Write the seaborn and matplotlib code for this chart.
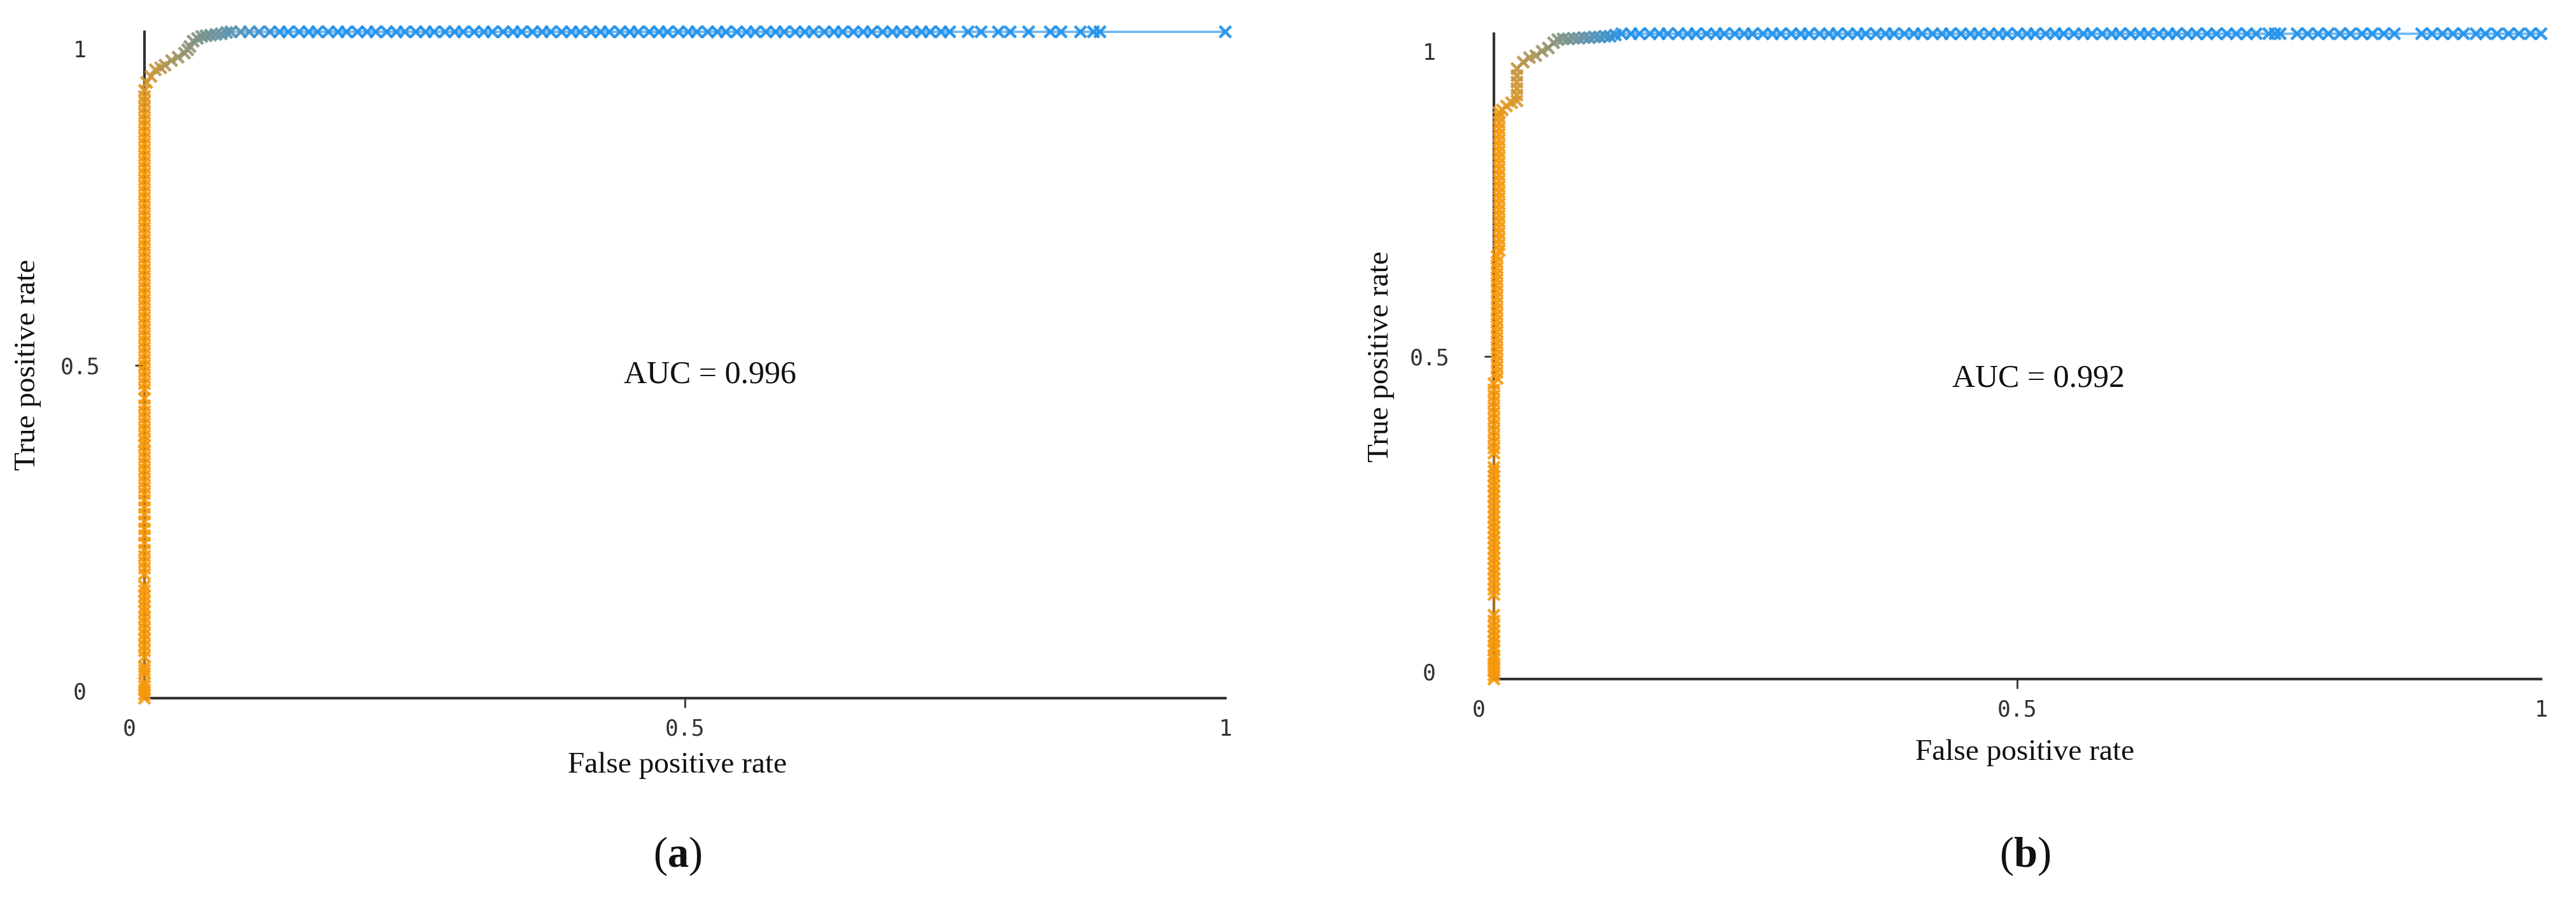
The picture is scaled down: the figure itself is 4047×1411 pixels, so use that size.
import numpy as np
import pandas as pd
import matplotlib.pyplot as plt
import seaborn as sns
from matplotlib.colors import LinearSegmentedColormap
from matplotlib.collections import LineCollection
from matplotlib.transforms import ScaledTranslation

sns.set_style("ticks")
plt.rcParams["font.family"] = ["Liberation Serif", "DejaVu Serif"]
plt.rcParams["mathtext.fontset"] = "custom"
plt.rcParams["mathtext.rm"] = "Liberation Serif"
plt.rcParams["mathtext.bf"] = "Liberation Serif:bold"

# ------------------------
# ROC points
# ------------------------
# (a) vertical run at FPR = 0
va_tpr = [0.0, 0.006, 0.012, 0.018, 0.023,
          0.037, 0.042, 0.047,
          0.062, 0.071, 0.079, 0.088, 0.096, 0.104, 0.113, 0.121, 0.13,
          0.137, 0.145, 0.153, 0.161, 0.168,
          0.186, 0.195, 0.204, 0.213, 0.222,
          0.233, 0.244, 0.254, 0.265, 0.276, 0.286, 0.297, 0.307, 0.316,
          0.325, 0.334, 0.343, 0.352, 0.361, 0.37, 0.379, 0.386,
          0.394, 0.403, 0.412, 0.421, 0.43, 0.439, 0.45,
          0.463, 0.472, 0.481, 0.49, 0.499, 0.508, 0.517, 0.526, 0.535, 0.544,
          0.553, 0.562, 0.571, 0.58, 0.589, 0.598, 0.607, 0.616, 0.625, 0.634,
          0.643, 0.652, 0.661, 0.67, 0.679, 0.688, 0.697, 0.706, 0.715, 0.724,
          0.733, 0.742, 0.751, 0.76, 0.769, 0.778, 0.787, 0.796, 0.805, 0.814,
          0.823, 0.832, 0.841, 0.85, 0.859, 0.868, 0.877, 0.886, 0.895, 0.903, 0.912]
va_fpr = 0.0
# (a) knee
ca_fpr = [0.002, 0.006, 0.010, 0.015, 0.019, 0.025, 0.031, 0.037, 0.040,
          0.042, 0.045, 0.049, 0.053, 0.057, 0.061, 0.066, 0.071, 0.076]
ca_tpr = [0.924, 0.933, 0.943, 0.946, 0.950, 0.957, 0.962, 0.968, 0.973,
          0.978, 0.986, 0.990, 0.993, 0.994, 0.995, 0.996, 0.997, 0.999]
# (a) flat run at TPR = 1
ta_fpr = [0.08, 0.089, 0.097, 0.106, 0.116, 0.125, 0.133, 0.143, 0.152, 0.16,
          0.17, 0.179, 0.187, 0.197, 0.206, 0.214, 0.224, 0.233, 0.241, 0.251,
          0.26, 0.268, 0.278, 0.287, 0.295, 0.305, 0.314, 0.322, 0.332, 0.341,
          0.349, 0.359, 0.368, 0.376, 0.386, 0.395, 0.403, 0.413, 0.422, 0.43,
          0.44, 0.449, 0.457, 0.467, 0.476, 0.484, 0.494, 0.503, 0.511, 0.521,
          0.53, 0.538, 0.548, 0.557, 0.565, 0.575, 0.584, 0.592, 0.602, 0.611,
          0.619, 0.629, 0.638, 0.646, 0.656, 0.665, 0.673, 0.683, 0.692, 0.70,
          0.71, 0.719, 0.727, 0.737, 0.745,
          0.762, 0.774, 0.79, 0.801, 0.818, 0.838, 0.848, 0.866, 0.878, 0.884, 1.0]

# (b) vertical run, three slightly different FPR columns
vb_fpr = [0.0, 0.003, 0.005]
vb0_tpr = [0.0, 0.006, 0.012, 0.018, 0.024, 0.03, 0.036, 0.046, 0.051, 0.058,
           0.066, 0.074, 0.082, 0.09, 0.099,
           0.131, 0.139, 0.147, 0.155, 0.163, 0.171, 0.179, 0.187, 0.195, 0.203,
           0.211, 0.219, 0.227, 0.235, 0.243, 0.251, 0.259, 0.267, 0.275, 0.283,
           0.291, 0.299, 0.307, 0.315, 0.322, 0.328,
           0.35, 0.358, 0.367, 0.376, 0.385, 0.394, 0.403, 0.412, 0.421, 0.43,
           0.439, 0.448, 0.458]
vb1_tpr = [0.466, 0.475, 0.484, 0.493, 0.502, 0.511, 0.52, 0.529, 0.538, 0.547,
           0.556, 0.565, 0.574, 0.583, 0.592, 0.601, 0.61, 0.619, 0.628, 0.637,
           0.646, 0.655]
vb2_tpr = [0.664, 0.673, 0.682, 0.691, 0.7, 0.709, 0.718, 0.727, 0.736, 0.745,
           0.754, 0.763, 0.772, 0.781, 0.79, 0.799, 0.808, 0.817, 0.826, 0.835,
           0.844, 0.853, 0.862, 0.871, 0.878]
# (b) knee
cb_fpr = [0.008, 0.012, 0.017, 0.022, 0.022, 0.022, 0.022, 0.022, 0.022, 0.028,
          0.034, 0.040, 0.046, 0.052, 0.057, 0.061, 0.066, 0.071, 0.076, 0.081,
          0.086, 0.091, 0.096, 0.101, 0.106, 0.111, 0.116]
cb_tpr = [0.882, 0.888, 0.893, 0.896, 0.905, 0.915, 0.925, 0.935, 0.946, 0.956,
          0.963, 0.966, 0.973, 0.978, 0.986, 0.991, 0.992, 0.992, 0.993, 0.993,
          0.994, 0.994, 0.995, 0.995, 0.996, 0.996, 0.998]
# (b) flat run at TPR = 1
tb_fpr = [0.122, 0.131, 0.139, 0.149, 0.158, 0.166, 0.176, 0.185, 0.193, 0.203,
          0.212, 0.22, 0.23, 0.239, 0.247, 0.257, 0.266, 0.274, 0.284, 0.293,
          0.301, 0.311, 0.32, 0.328, 0.338, 0.347, 0.355, 0.365, 0.374, 0.382,
          0.392, 0.401, 0.409, 0.419, 0.428, 0.436, 0.446, 0.455, 0.463, 0.473,
          0.482, 0.49, 0.5, 0.509, 0.517, 0.527, 0.536, 0.544, 0.554, 0.563,
          0.571, 0.581, 0.59, 0.598, 0.608, 0.617, 0.625, 0.635, 0.644,
          0.652, 0.662, 0.671, 0.681, 0.69, 0.70, 0.709, 0.719,
          0.728, 0.740, 0.746, 0.751,
          0.767, 0.777, 0.787, 0.797, 0.808, 0.818, 0.829, 0.839, 0.85, 0.86,
          0.886, 0.896, 0.906, 0.916, 0.926, 0.938, 0.947, 0.958, 0.969, 0.979, 0.99, 1.0]

auc_labels = ["AUC = 0.996", "AUC = 0.992"]
panel_labels = ["a", "b"]
tick_vals = [0, 0.5, 1]
tick_labels = ["0", "0.5", "1"]
xlabel = "False positive rate"
ylabel = "True positive rate"

# ------------------------
# Assemble the two curves
# ------------------------
roc_a = pd.DataFrame({
    "fpr": [va_fpr] * len(va_tpr) + ca_fpr + ta_fpr,
    "tpr": va_tpr + ca_tpr + [1.0] * len(ta_fpr),
})
roc_b = pd.DataFrame({
    "fpr": [vb_fpr[0]] * len(vb0_tpr) + [vb_fpr[1]] * len(vb1_tpr)
           + [vb_fpr[2]] * len(vb2_tpr) + cb_fpr + tb_fpr,
    "tpr": vb0_tpr + vb1_tpr + vb2_tpr + cb_tpr + [1.0] * len(tb_fpr),
})

cmap = LinearSegmentedColormap.from_list("roc", ["#F7990C", "#1E90EB"])
axis_col = "#333333"

W, H = 4048, 1411
fig = plt.figure(figsize=(W / 100, H / 100), dpi=100)
# axes boxes in pixels: x0, x1, y_bottom, y_top
boxes = [(227, 1925, 1097, 50), (2347, 3992, 1067, 53)]
# colour ramp settings per panel: (fpr where it turns blue, exponent)
ramps = [(0.13, 1.0), (0.125, 1.5)]
auc_pos = [(0.523, 0.485), (0.52, 0.465)]
xlab_pos = [(0.493, -0.101), (0.507, -0.114)]
sub_x = [1064, 3181]

for i, df in enumerate([roc_a, roc_b]):
    x0, x1, yb, yt = boxes[i]
    ax = fig.add_axes([x0 / W, 1 - yb / H, (x1 - x0) / W, (yb - yt) / H])

    f_full, pw = ramps[i]
    t = np.clip(0.3 * (df["tpr"] - 0.85) / 0.15
                + 0.7 * (df["fpr"] / f_full) ** pw, 0, 1).to_numpy()
    df = df.assign(t=t)

    # connecting line, coloured along the curve
    pts = df[["fpr", "tpr"]].to_numpy()
    segs = np.stack([pts[:-1], pts[1:]], axis=1)
    lc = LineCollection(segs, cmap=cmap, norm=plt.Normalize(0, 1),
                        linewidths=2.6, alpha=0.65, zorder=3)
    lc.set_array((t[:-1] + t[1:]) / 2)
    lc.set_clip_on(False)
    ax.add_collection(lc)

    sns.scatterplot(data=df, x="fpr", y="tpr", hue="t", palette=cmap,
                    hue_norm=(0, 1), marker="x", s=165, linewidth=3.4,
                    alpha=0.9, legend=False, ax=ax, clip_on=False, zorder=4)

    ax.set_xlim(0, 1)
    ax.set_ylim(0, 1)
    sns.despine(ax=ax)
    for side in ["left", "bottom"]:
        ax.spines[side].set_linewidth(3)
        ax.spines[side].set_color(axis_col)
        ax.spines[side].set_zorder(2)

    ax.set_xticks(tick_vals)
    ax.set_yticks(tick_vals)
    ax.set_xticklabels(tick_labels, family="DejaVu Sans Mono", fontsize=25, color=axis_col)
    ax.set_yticklabels(tick_labels, family="DejaVu Sans Mono", fontsize=25, color=axis_col)
    ax.tick_params(axis="both", direction="out", length=11, width=2, color=axis_col)
    ax.tick_params(axis="x", pad=12)
    ax.tick_params(axis="y", pad=62)
    for lab in ax.get_yticklabels():
        lab.set_ha("center")
    # end labels sit a little inward, as in the original
    ylabs = ax.get_yticklabels()
    ylabs[0].set_transform(ylabs[0].get_transform() + ScaledTranslation(0, 0.12, fig.dpi_scale_trans))
    ylabs[2].set_transform(ylabs[2].get_transform() + ScaledTranslation(0, -0.27, fig.dpi_scale_trans))
    xlabs = ax.get_xticklabels()
    xlabs[0].set_transform(xlabs[0].get_transform() + ScaledTranslation(-0.24, 0, fig.dpi_scale_trans))
    # only the middle ticks carry a visible mark
    for j, tk in enumerate(ax.xaxis.get_major_ticks()):
        tk.tick1line.set_visible(j == 1)
    for j, tk in enumerate(ax.yaxis.get_major_ticks()):
        tk.tick1line.set_visible(j == 1)

    ax.set_xlabel("")
    ax.set_ylabel("")
    ax.text(xlab_pos[i][0], xlab_pos[i][1], xlabel, transform=ax.transAxes,
            ha="center", va="center", fontsize=34, color="#111111")
    ax.text(-0.108, 0.5, ylabel, transform=ax.transAxes, rotation=90,
            ha="center", va="center", fontsize=34, color="#111111")
    ax.text(auc_pos[i][0], auc_pos[i][1], auc_labels[i], transform=ax.transAxes,
            ha="center", va="center", fontsize=36, color="#111111")

    fig.text(sub_x[i] / W, 1 - 1345 / H, "(" + r"$\mathbf{" + panel_labels[i] + "}$" + ")",
             ha="center", va="center", fontsize=48, color="#111111")

fig.savefig("out.png", dpi=100)
